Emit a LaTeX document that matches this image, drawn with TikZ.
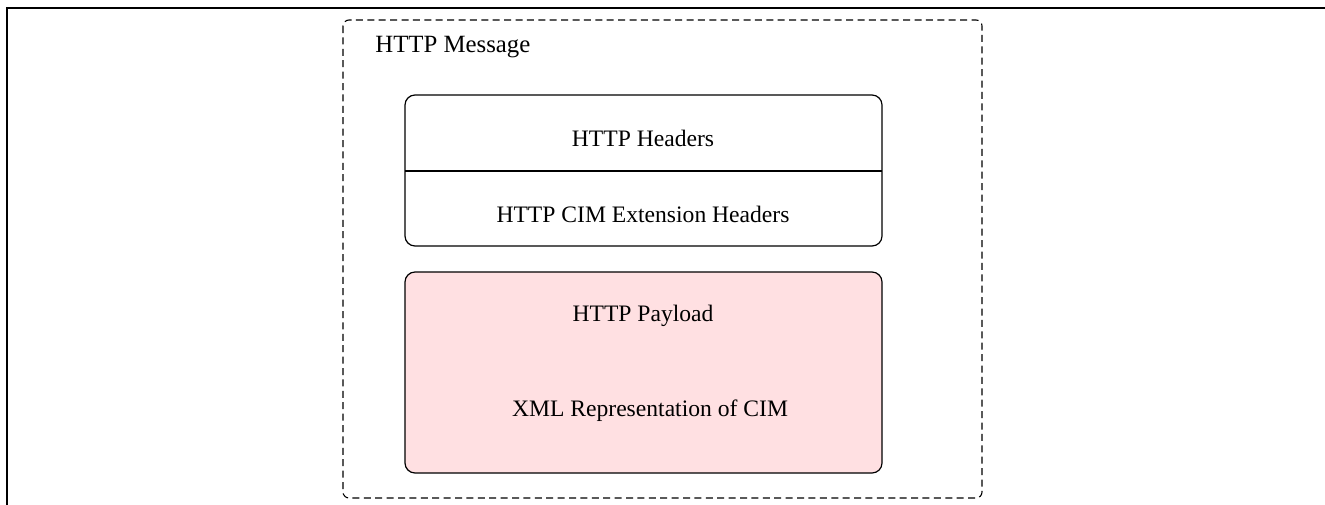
\documentclass[tikz,border=0pt]{standalone}
\usepackage{fontspec}
\setmainfont{Liberation Serif}
\definecolor{payloadpink}{RGB}{255,224,226}
\begin{document}
\begin{tikzpicture}[x=0.5pt,y=-0.5pt,
  lbl/.style={inner sep=0pt,font=\fontsize{11.8pt}{14pt}\selectfont},
  innerbox/.style={draw=black,line width=0.6pt,rounded corners=5pt},
  outerdash/.style={draw=black,line width=0.55pt,dash pattern=on 3.5pt off 2.2pt,rounded corners=3pt},
  frame/.style={draw=black,line width=1.1pt}]
\useasboundingbox (0,0) rectangle (1325,504);
% outer frame (cropped)
\draw[frame] (7,506) -- (7,8) -- (1327,8);
% dashed message box
\draw[outerdash] (343,20) rectangle (982,498);
\node[lbl,anchor=base west,font=\fontsize{12.4pt}{14pt}\selectfont] (msg) at (375,52) {HTTP Message};
% headers box
\draw[innerbox] (405,95) rectangle (882,246);
\draw[line width=0.6pt] (405,171) -- (882,171);
\node[lbl,anchor=base] (hdr) at (643,146) {HTTP Headers};
\node[lbl,anchor=base] (ext) at (643,222) {HTTP CIM Extension Headers};
% payload box
\draw[innerbox,fill=payloadpink] (405,272) rectangle (882,473);
\node[lbl,anchor=base] (pay) at (643,321) {HTTP Payload};
\node[lbl,anchor=base] (xml) at (650,416) {XML Representation of CIM};
\end{tikzpicture}
\end{document}
